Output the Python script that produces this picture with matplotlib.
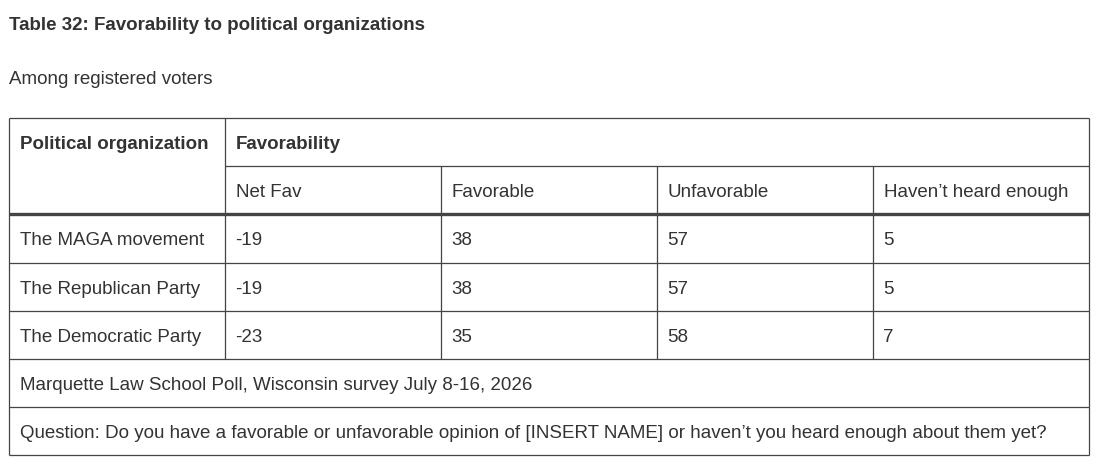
import matplotlib
matplotlib.use("Agg")
import matplotlib.pyplot as plt

title = "Table 32: Favorability to political organizations"
subtitle = "Among registered voters"
group_header = "Favorability"
row_header = "Political organization"
columns = ["Net Fav", "Favorable", "Unfavorable", "Haven\u2019t heard enough"]
organizations = ["The MAGA movement", "The Republican Party", "The Democratic Party"]
net_fav = [-19, -19, -23]
favorable = [38, 38, 35]
unfavorable = [57, 57, 58]
not_heard = [5, 5, 7]
source = "Marquette Law School Poll, Wisconsin survey July 8-16, 2026"
question = ("Question: Do you have a favorable or unfavorable opinion of [INSERT NAME] "
            "or haven\u2019t you heard enough about them yet?")

plt.rcParams['font.family'] = ['Liberation Sans', 'DejaVu Sans']
txt = "#333333"
line = "#444444"

fig = plt.figure(figsize=(11.04, 4.77), dpi=100)
ax = fig.add_axes([0, 0, 1, 1])
ax.set_xlim(0, 1104)
ax.set_ylim(477, 0)
ax.axis("off")

# table geometry in pixels
left, right = 9.0, 1089.0
col_x = [left, 225.0, 441.0, 657.0, 873.0, right]
row_y = [118.5, 166.5, 214.5, 263.5, 311.5, 359.5, 407.5, 455.5]
fs = 13.5
pad = 10

ax.text(9, 26, title, fontsize=fs, fontweight="bold", color=txt, va="center")
ax.text(9, 79, subtitle, fontsize=fs, color=txt, va="center")

def hline(y, x0=left, x1=right, lw=0.9):
    ax.plot([x0, x1], [y, y], color=line, lw=lw, solid_capstyle="butt")

def vline(x, y0, y1, lw=0.9):
    ax.plot([x, x], [y0, y1], color=line, lw=lw, solid_capstyle="butt")

# outer frame and grid
hline(row_y[0])
hline(row_y[1], col_x[1], right)
hline(row_y[2], lw=2.4)
for y in row_y[3:]:
    hline(y)
vline(left, row_y[0], row_y[-1])
vline(right, row_y[0], row_y[-1])
vline(col_x[1], row_y[0], row_y[5])
for x in col_x[2:5]:
    vline(x, row_y[1], row_y[5])

def cy(i):
    return (row_y[i] + row_y[i + 1]) / 2 + 2

ax.text(left + pad + 1, cy(0), row_header, fontsize=fs, fontweight="bold", color=txt, va="center")
ax.text(col_x[1] + pad + 0.5, cy(0), group_header, fontsize=fs, fontweight="bold", color=txt, va="center")
for j, c in enumerate(columns):
    ax.text(col_x[j + 1] + pad + 0.5, cy(1), c, fontsize=fs, color=txt, va="center")

for i, org in enumerate(organizations):
    vals = [net_fav[i], favorable[i], unfavorable[i], not_heard[i]]
    ax.text(left + pad + 1, cy(2 + i), org, fontsize=fs, color=txt, va="center")
    for j, v in enumerate(vals):
        ax.text(col_x[j + 1] + pad + 0.5, cy(2 + i), str(v), fontsize=fs, color=txt, va="center")

ax.text(left + pad + 1, cy(5), source, fontsize=fs, color=txt, va="center")
ax.text(left + pad + 1, cy(6), question, fontsize=fs, color=txt, va="center")

fig.savefig("out.png", dpi=100, facecolor="white")
